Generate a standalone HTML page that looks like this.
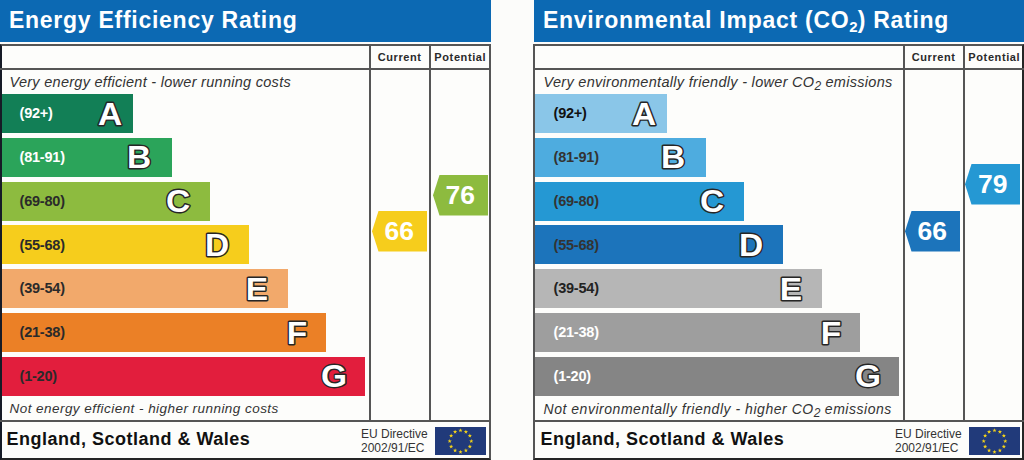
<!DOCTYPE html>
<html><head><meta charset="utf-8"><style>
*{margin:0;padding:0;box-sizing:border-box}
html,body{width:1024px;height:460px;overflow:hidden;background:#fcfcfa;font-family:"Liberation Sans",sans-serif}
.hdr{position:absolute;top:0;height:41.5px;background:#0c69b3;color:#fff;font-weight:bold;font-size:23px;letter-spacing:0.73px;padding-left:9px;line-height:41px;white-space:nowrap}
.hdr sub{font-size:15px;vertical-align:-4px;letter-spacing:0}
.box{position:absolute;top:44px;width:491px;height:416px;border:2px solid #555;border-bottom-color:#252525;background:#fdfdfb}
.hl{position:absolute;height:2px;background:#555}
.vl{position:absolute;top:44px;height:377px;width:2px;background:#555}
.colh{position:absolute;top:46px;height:22px;line-height:22px;text-align:center;font-weight:bold;font-size:11px;letter-spacing:0.6px;color:#2a2a2a}
.sub{position:absolute;font-style:italic;color:#333;white-space:nowrap;line-height:18px}
.sub sub{font-size:12px;vertical-align:-3px;letter-spacing:0}
.bar{position:absolute}
.rng{position:absolute;left:17.5px;top:0.3px;line-height:38.8px;font-weight:bold;font-size:14.5px;letter-spacing:-0.2px}
.let{position:absolute;overflow:visible}
.let text{font-family:"Liberation Sans",sans-serif;font-weight:bold;font-size:31px;fill:#fff;stroke:#262626;stroke-width:2.8px;paint-order:stroke fill;stroke-linejoin:round}
.foot{position:absolute;top:426px;font-weight:bold;font-size:18px;letter-spacing:0.5px;color:#111;line-height:26px;white-space:nowrap}
.eu{position:absolute;top:428px;font-size:12px;line-height:13.7px;color:#333;white-space:nowrap}
.arr{position:absolute}
.num{position:absolute;width:50px;height:41px;line-height:41px;text-align:center;color:#fff;font-weight:bold;font-size:26.5px;letter-spacing:0px;text-indent:-6.5px}
</style></head><body>
<div class="hdr" style="left:0px;width:491px;padding-left:9px">Energy Efficiency Rating</div>
<div class="box" style="left:0px;border-left-color:#161b26;"></div>
<div class="hl" style="left:0px;top:68px;width:491px"></div>
<div class="hl" style="left:0px;top:420px;width:491px"></div>
<div class="vl" style="left:369px"></div>
<div class="vl" style="left:429px"></div>
<div class="colh" style="left:370px;width:60px;text-indent:-0.7px">Current</div>
<div class="colh" style="left:430px;width:60px;text-indent:0.6px">Potential</div>
<div class="sub" style="left:9.5px;top:72.5px;font-size:14.5px;letter-spacing:0.28px">Very energy efficient - lower running costs</div>
<div class="sub" style="left:9.5px;top:400px;font-size:13.5px;letter-spacing:0.45px">Not energy efficient - higher running costs</div>
<div class="bar" style="left:2px;top:94.0px;width:130.6px;height:39.0px;background:#127f56"><span class="rng" style="color:#fff;left:17.5px">(92+)</span></div>
<svg class="let" style="left:85.2px;top:88.5px" width="50" height="50"><text transform="translate(25 0) scale(1.08 1) translate(-25 0)" x="25" y="36.30" text-anchor="middle">A</text></svg>
<div class="bar" style="left:2px;top:137.8px;width:169.7px;height:39.0px;background:#2ba45a"><span class="rng" style="color:#fff;left:17.5px">(81-91)</span></div>
<svg class="let" style="left:113.8px;top:132.3px" width="50" height="50"><text transform="translate(25 0) scale(1.08 1) translate(-25 0)" x="25" y="36.30" text-anchor="middle">B</text></svg>
<div class="bar" style="left:2px;top:181.6px;width:208.2px;height:39.0px;background:#8dbb3f"><span class="rng" style="color:#2a2a2a;left:17.5px">(69-80)</span></div>
<svg class="let" style="left:152.8px;top:176.1px" width="50" height="50"><text transform="translate(25 0) scale(1.08 1) translate(-25 0)" x="25" y="36.30" text-anchor="middle">C</text></svg>
<div class="bar" style="left:2px;top:225.4px;width:247.3px;height:39.0px;background:#f6cd1c"><span class="rng" style="color:#2a2a2a;left:17.5px">(55-68)</span></div>
<svg class="let" style="left:191.7px;top:219.9px" width="50" height="50"><text transform="translate(25 0) scale(1.08 1) translate(-25 0)" x="25" y="36.30" text-anchor="middle">D</text></svg>
<div class="bar" style="left:2px;top:269.2px;width:286.0px;height:39.0px;background:#f2a96b"><span class="rng" style="color:#2a2a2a;left:17.5px">(39-54)</span></div>
<svg class="let" style="left:232.0px;top:263.7px" width="50" height="50"><text transform="translate(25 0) scale(1.08 1) translate(-25 0)" x="25" y="36.30" text-anchor="middle">E</text></svg>
<div class="bar" style="left:2px;top:313.0px;width:324.3px;height:39.0px;background:#eb8026"><span class="rng" style="color:#2a2a2a;left:17.5px">(21-38)</span></div>
<svg class="let" style="left:271.9px;top:307.5px" width="50" height="50"><text transform="translate(25 0) scale(1.08 1) translate(-25 0)" x="25" y="36.30" text-anchor="middle">F</text></svg>
<div class="bar" style="left:2px;top:356.8px;width:363.2px;height:39.0px;background:#e21e3d"><span class="rng" style="color:#2a2a2a;left:17.5px">(1-20)</span></div>
<svg class="let" style="left:309.4px;top:351.3px" width="50" height="50"><text transform="translate(25 0) scale(1.08 1) translate(-25 0)" x="25" y="36.30" text-anchor="middle">G</text></svg>
<div class="foot" style="left:6.5px">England, Scotland &amp; Wales</div>
<div class="eu" style="left:361px">EU Directive<br>2002/91/EC</div>
<svg width="51" height="28" viewBox="0 0 51 28" style="position:absolute;left:435px;top:426.8px"><rect width="51" height="28" fill="#213a7a"/><polygon points="25.50,1.20 26.03,2.67 27.59,2.72 26.36,3.68 26.79,5.18 25.50,4.30 24.21,5.18 24.64,3.68 23.41,2.72 24.97,2.67" fill="#f2d21a"/><polygon points="30.90,2.65 31.43,4.12 32.99,4.17 31.76,5.13 32.19,6.63 30.90,5.75 29.61,6.63 30.04,5.13 28.81,4.17 30.37,4.12" fill="#f2d21a"/><polygon points="34.85,6.60 35.38,8.07 36.95,8.12 35.71,9.08 36.15,10.58 34.85,9.70 33.56,10.58 34.00,9.08 32.76,8.12 34.32,8.07" fill="#f2d21a"/><polygon points="36.30,12.00 36.83,13.47 38.39,13.52 37.16,14.48 37.59,15.98 36.30,15.10 35.01,15.98 35.44,14.48 34.21,13.52 35.77,13.47" fill="#f2d21a"/><polygon points="34.85,17.40 35.38,18.87 36.95,18.92 35.71,19.88 36.15,21.38 34.85,20.50 33.56,21.38 34.00,19.88 32.76,18.92 34.32,18.87" fill="#f2d21a"/><polygon points="30.90,21.35 31.43,22.82 32.99,22.87 31.76,23.83 32.19,25.33 30.90,24.45 29.61,25.33 30.04,23.83 28.81,22.87 30.37,22.82" fill="#f2d21a"/><polygon points="25.50,22.80 26.03,24.27 27.59,24.32 26.36,25.28 26.79,26.78 25.50,25.90 24.21,26.78 24.64,25.28 23.41,24.32 24.97,24.27" fill="#f2d21a"/><polygon points="20.10,21.35 20.63,22.82 22.19,22.87 20.96,23.83 21.39,25.33 20.10,24.45 18.81,25.33 19.24,23.83 18.01,22.87 19.57,22.82" fill="#f2d21a"/><polygon points="16.15,17.40 16.68,18.87 18.24,18.92 17.00,19.88 17.44,21.38 16.15,20.50 14.85,21.38 15.29,19.88 14.05,18.92 15.62,18.87" fill="#f2d21a"/><polygon points="14.70,12.00 15.23,13.47 16.79,13.52 15.56,14.48 15.99,15.98 14.70,15.10 13.41,15.98 13.84,14.48 12.61,13.52 14.17,13.47" fill="#f2d21a"/><polygon points="16.15,6.60 16.68,8.07 18.24,8.12 17.00,9.08 17.44,10.58 16.15,9.70 14.85,10.58 15.29,9.08 14.05,8.12 15.62,8.07" fill="#f2d21a"/><polygon points="20.10,2.65 20.63,4.12 22.19,4.17 20.96,5.13 21.39,6.63 20.10,5.75 18.81,6.63 19.24,5.13 18.01,4.17 19.57,4.12" fill="#f2d21a"/></svg>
<svg class="arr" style="left:371.5px;top:210.5px" width="56" height="41" viewBox="0 0 56 41"><polygon points="0,20.25 6.5,0 55,0 55,40.5 6.5,40.5" fill="#f6cd1c"/></svg><div class="num" style="left:377.5px;top:210.5px">66</div>
<svg class="arr" style="left:432.5px;top:175px" width="56" height="41" viewBox="0 0 56 41"><polygon points="0,20.25 6.5,0 55,0 55,40.5 6.5,40.5" fill="#8dbb3f"/></svg><div class="num" style="left:438.5px;top:175px">76</div>
<div class="hdr" style="left:533.5px;width:490px;padding-left:9.5px">Environmental Impact (CO<sub>2</sub>) Rating</div>
<div class="box" style="left:533px;border-right-color:#252525;"></div>
<div class="hl" style="left:533px;top:68px;width:491px"></div>
<div class="hl" style="left:533px;top:420px;width:491px"></div>
<div class="vl" style="left:903px"></div>
<div class="vl" style="left:963px"></div>
<div class="colh" style="left:904px;width:60px;text-indent:-0.7px">Current</div>
<div class="colh" style="left:964px;width:60px;text-indent:0.6px">Potential</div>
<div class="sub" style="left:543.5px;top:72.5px;font-size:14.5px;letter-spacing:0.3px">Very environmentally friendly - lower CO<sub>2</sub> emissions</div>
<div class="sub" style="left:543.5px;top:399.6px;font-size:14px;letter-spacing:0.53px">Not environmentally friendly - higher CO<sub>2</sub> emissions</div>
<div class="bar" style="left:535px;top:94.0px;width:131.6px;height:39.0px;background:#8ac6e8"><span class="rng" style="color:#111;left:18.5px">(92+)</span></div>
<svg class="let" style="left:619.2px;top:88.5px" width="50" height="50"><text transform="translate(25 0) scale(1.08 1) translate(-25 0)" x="25" y="36.30" text-anchor="middle">A</text></svg>
<div class="bar" style="left:535px;top:137.8px;width:170.7px;height:39.0px;background:#4eacdf"><span class="rng" style="color:#333;left:18.5px">(81-91)</span></div>
<svg class="let" style="left:647.8px;top:132.3px" width="50" height="50"><text transform="translate(25 0) scale(1.08 1) translate(-25 0)" x="25" y="36.30" text-anchor="middle">B</text></svg>
<div class="bar" style="left:535px;top:181.6px;width:209.2px;height:39.0px;background:#2598d3"><span class="rng" style="color:#333;left:18.5px">(69-80)</span></div>
<svg class="let" style="left:686.8px;top:176.1px" width="50" height="50"><text transform="translate(25 0) scale(1.08 1) translate(-25 0)" x="25" y="36.30" text-anchor="middle">C</text></svg>
<div class="bar" style="left:535px;top:225.4px;width:248.3px;height:39.0px;background:#1c74bb"><span class="rng" style="color:#333;left:18.5px">(55-68)</span></div>
<svg class="let" style="left:725.6px;top:219.9px" width="50" height="50"><text transform="translate(25 0) scale(1.08 1) translate(-25 0)" x="25" y="36.30" text-anchor="middle">D</text></svg>
<div class="bar" style="left:535px;top:269.2px;width:287.0px;height:39.0px;background:#b6b6b6"><span class="rng" style="color:#222;left:18.5px">(39-54)</span></div>
<svg class="let" style="left:766.0px;top:263.7px" width="50" height="50"><text transform="translate(25 0) scale(1.08 1) translate(-25 0)" x="25" y="36.30" text-anchor="middle">E</text></svg>
<div class="bar" style="left:535px;top:313.0px;width:325.3px;height:39.0px;background:#9e9e9e"><span class="rng" style="color:#fff;left:18.5px">(21-38)</span></div>
<svg class="let" style="left:805.8px;top:307.5px" width="50" height="50"><text transform="translate(25 0) scale(1.08 1) translate(-25 0)" x="25" y="36.30" text-anchor="middle">F</text></svg>
<div class="bar" style="left:535px;top:356.8px;width:364.2px;height:39.0px;background:#858585"><span class="rng" style="color:#fff;left:18.5px">(1-20)</span></div>
<svg class="let" style="left:843.4px;top:351.3px" width="50" height="50"><text transform="translate(25 0) scale(1.08 1) translate(-25 0)" x="25" y="36.30" text-anchor="middle">G</text></svg>
<div class="foot" style="left:540.5px">England, Scotland &amp; Wales</div>
<div class="eu" style="left:895px">EU Directive<br>2002/91/EC</div>
<svg width="51" height="28" viewBox="0 0 51 28" style="position:absolute;left:969px;top:426.8px"><rect width="51" height="28" fill="#213a7a"/><polygon points="25.50,1.20 26.03,2.67 27.59,2.72 26.36,3.68 26.79,5.18 25.50,4.30 24.21,5.18 24.64,3.68 23.41,2.72 24.97,2.67" fill="#f2d21a"/><polygon points="30.90,2.65 31.43,4.12 32.99,4.17 31.76,5.13 32.19,6.63 30.90,5.75 29.61,6.63 30.04,5.13 28.81,4.17 30.37,4.12" fill="#f2d21a"/><polygon points="34.85,6.60 35.38,8.07 36.95,8.12 35.71,9.08 36.15,10.58 34.85,9.70 33.56,10.58 34.00,9.08 32.76,8.12 34.32,8.07" fill="#f2d21a"/><polygon points="36.30,12.00 36.83,13.47 38.39,13.52 37.16,14.48 37.59,15.98 36.30,15.10 35.01,15.98 35.44,14.48 34.21,13.52 35.77,13.47" fill="#f2d21a"/><polygon points="34.85,17.40 35.38,18.87 36.95,18.92 35.71,19.88 36.15,21.38 34.85,20.50 33.56,21.38 34.00,19.88 32.76,18.92 34.32,18.87" fill="#f2d21a"/><polygon points="30.90,21.35 31.43,22.82 32.99,22.87 31.76,23.83 32.19,25.33 30.90,24.45 29.61,25.33 30.04,23.83 28.81,22.87 30.37,22.82" fill="#f2d21a"/><polygon points="25.50,22.80 26.03,24.27 27.59,24.32 26.36,25.28 26.79,26.78 25.50,25.90 24.21,26.78 24.64,25.28 23.41,24.32 24.97,24.27" fill="#f2d21a"/><polygon points="20.10,21.35 20.63,22.82 22.19,22.87 20.96,23.83 21.39,25.33 20.10,24.45 18.81,25.33 19.24,23.83 18.01,22.87 19.57,22.82" fill="#f2d21a"/><polygon points="16.15,17.40 16.68,18.87 18.24,18.92 17.00,19.88 17.44,21.38 16.15,20.50 14.85,21.38 15.29,19.88 14.05,18.92 15.62,18.87" fill="#f2d21a"/><polygon points="14.70,12.00 15.23,13.47 16.79,13.52 15.56,14.48 15.99,15.98 14.70,15.10 13.41,15.98 13.84,14.48 12.61,13.52 14.17,13.47" fill="#f2d21a"/><polygon points="16.15,6.60 16.68,8.07 18.24,8.12 17.00,9.08 17.44,10.58 16.15,9.70 14.85,10.58 15.29,9.08 14.05,8.12 15.62,8.07" fill="#f2d21a"/><polygon points="20.10,2.65 20.63,4.12 22.19,4.17 20.96,5.13 21.39,6.63 20.10,5.75 18.81,6.63 19.24,5.13 18.01,4.17 19.57,4.12" fill="#f2d21a"/></svg>
<svg class="arr" style="left:904.5px;top:210.5px" width="56" height="41" viewBox="0 0 56 41"><polygon points="0,20.25 6.5,0 55,0 55,40.5 6.5,40.5" fill="#1c74bb"/></svg><div class="num" style="left:910.5px;top:210.5px">66</div>
<svg class="arr" style="left:965px;top:164.3px" width="56" height="41" viewBox="0 0 56 41"><polygon points="0,20.25 6.5,0 55,0 55,40.5 6.5,40.5" fill="#2598d3"/></svg><div class="num" style="left:971px;top:164.3px">79</div>
</body></html>
